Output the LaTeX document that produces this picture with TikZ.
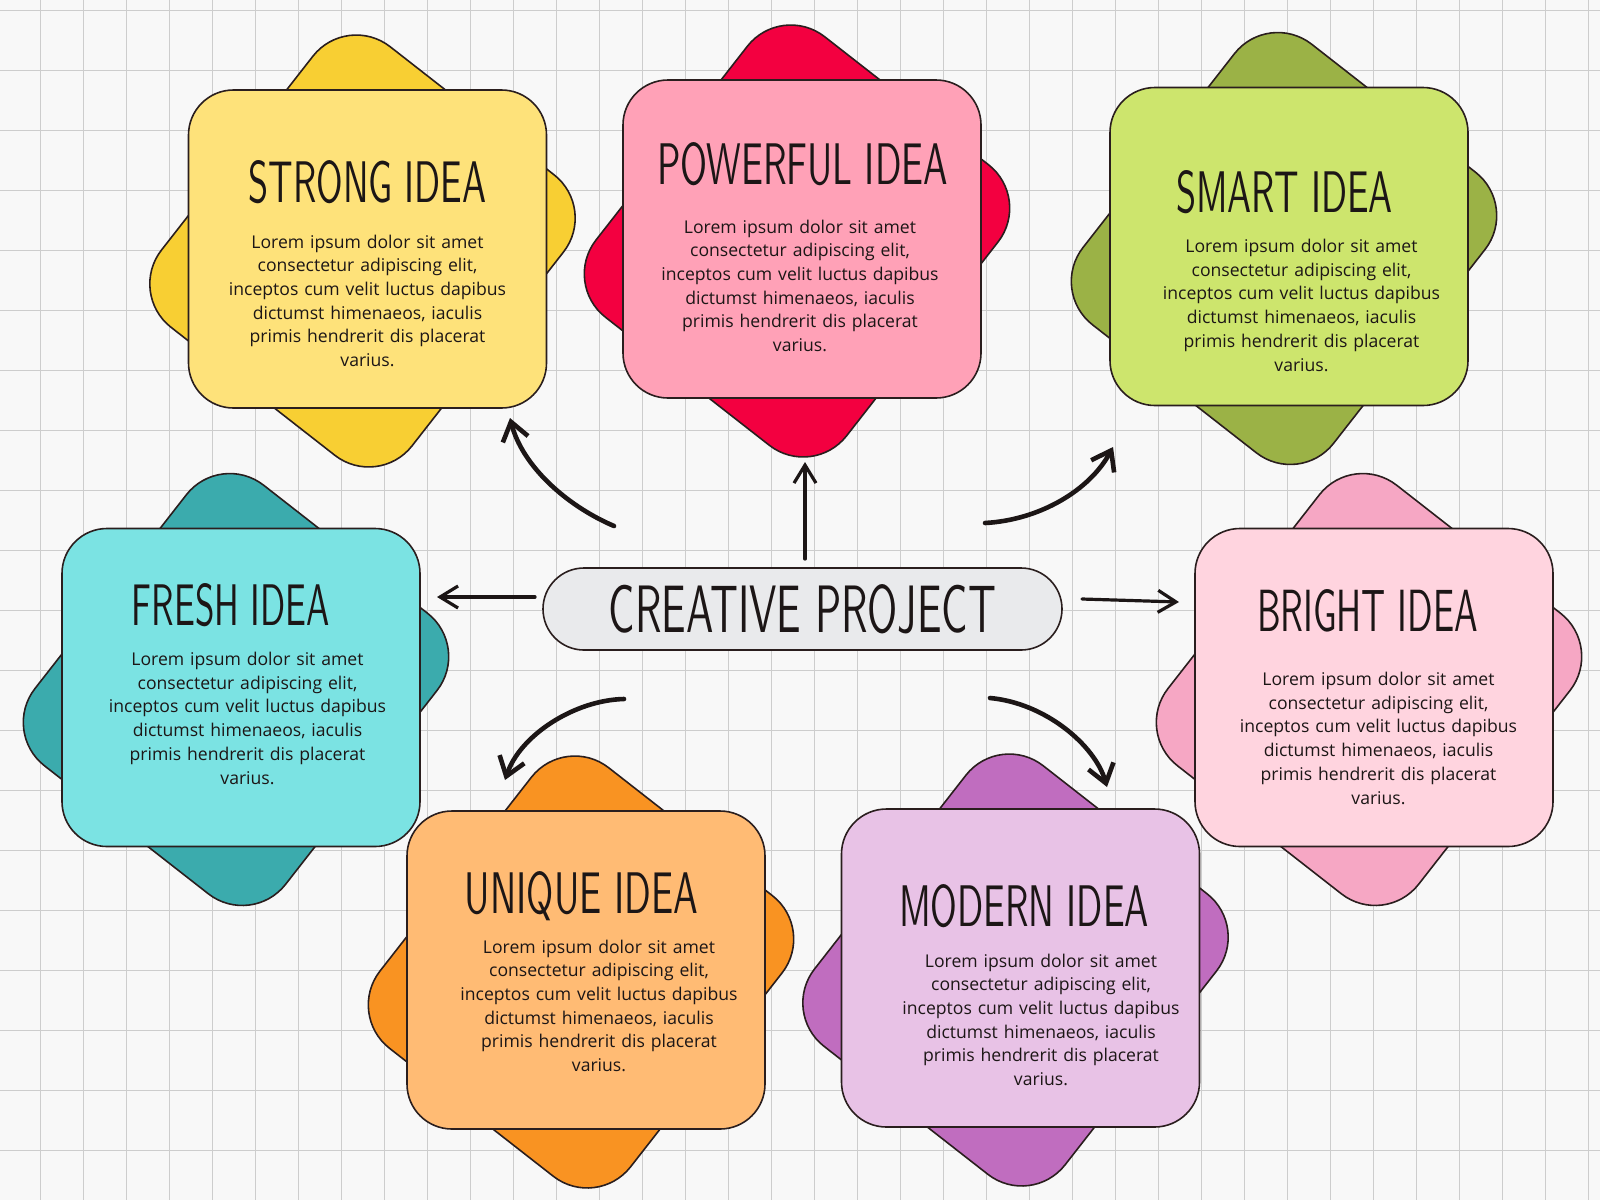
\documentclass[tikz,border=0pt]{standalone}
\usepackage{fontspec}
\setmainfont{Open Sans}
\usepackage{graphicx}
\usetikzlibrary{arrows.meta,calc}
\definecolor{bgC}{HTML}{F8F8F8}
\definecolor{gridC}{HTML}{CDCDCD}
\definecolor{lineC}{HTML}{2A1E1E}
\definecolor{inkC}{HTML}{1C1616}
\definecolor{yelF}{HTML}{FEE27A}\definecolor{yelB}{HTML}{F8CF33}
\definecolor{redF}{HTML}{FFA1B7}\definecolor{redB}{HTML}{F30040}
\definecolor{grnF}{HTML}{CDE56D}\definecolor{grnB}{HTML}{9BB246}
\definecolor{tealF}{HTML}{7BE3E3}\definecolor{tealB}{HTML}{3BABAD}
\definecolor{pinkF}{HTML}{FFD4DF}\definecolor{pinkB}{HTML}{F6A7C4}
\definecolor{orgF}{HTML}{FFBB74}\definecolor{orgB}{HTML}{F99322}
\definecolor{purF}{HTML}{E8C2E6}\definecolor{purB}{HTML}{C06DBF}
\definecolor{pillC}{HTML}{E9EAEC}
\newcommand{\loremtext}{Lorem ipsum dolor sit amet\\consectetur adipiscing elit,\\inceptos cum velit luctus dapibus\\dictumst himenaeos, iaculis\\primis hendrerit dis placerat\\varius.}
\newcommand{\ideaback}[3]{%
  \begin{scope}[shift={(#1-5,#2+2)}, rotate=52]
    \draw[cardline, fill=#3, rounded corners=27.5pt] (-178,-159) rectangle (178,159);
  \end{scope}}
\newcommand{\ideafront}[4]{%
  \node[frontbox, fill=#4] (#1) at (#2,#3) {};}
\newcommand{\ideatitle}[5]{%
  \node[titletext] (#1-title) at ($(#1.north)+(#4,#5)$) {\resizebox{#3pt}{21pt}{\sffamily #2}};}
\newcommand{\ideabody}[3]{%
  \node[bodytext] (#1-body) at ($(#1.north)+(#2,#3)$) {\loremtext};}
\begin{document}
\begin{tikzpicture}[x=0.5pt,y=-0.5pt,
  cardline/.style={draw=lineC, line width=0.8pt},
  frontbox/.style={cardline, rounded corners=22.5pt, minimum width=179pt, minimum height=159pt, inner sep=0pt, outer sep=0pt},
  titletext/.style={anchor=base, inner sep=0pt, text=inkC},
  bodytext/.style={anchor=base, inner sep=0pt, text=inkC, text width=180pt, align=center, font=\fontsize{8.8pt}{11.85pt}\selectfont},
  arr/.style={draw=inkC, line width=2.3pt, line cap=round, -{Straight Barb[length=9pt,width=13pt]}},
  sarr/.style={arr, line width=1.6pt, -{Straight Barb[length=9pt,width=11pt]}}]
\useasboundingbox (0,0) rectangle (1600,1200);
% paper background
\fill[bgC] (0,0) rectangle (1600,1200);
\foreach \x in {40,83,...,1600} \draw[gridC, line width=0.5pt] (\x,0) -- (\x,1200);
\foreach \y in {10,70,...,1200} \draw[gridC, line width=0.5pt] (0,\y) -- (1600,\y);
% back shapes
\ideaback{367.5}{249}{yelB}
\ideaback{802}{239}{redB}
\ideaback{1289}{246.5}{grnB}
\ideaback{241}{687.5}{tealB}
\ideaback{1374}{687.5}{pinkB}
\ideaback{586}{970}{orgB}
\ideaback{1020.5}{968}{purB}
% front boxes
\ideafront{strong}{367.5}{249}{yelF}
\ideafront{powerful}{802}{239}{redF}
\ideafront{smart}{1289}{246.5}{grnF}
\ideafront{fresh}{241}{687.5}{tealF}
\ideafront{bright}{1374}{687.5}{pinkF}
\ideafront{unique}{586}{970}{orgF}
\ideafront{modern}{1020.5}{968}{purF}
% titles
\ideatitle{strong}{STRONG IDEA}{119}{0}{112}
\ideatitle{powerful}{POWERFUL IDEA}{145.5}{0.5}{104}
\ideatitle{smart}{SMART IDEA}{108.5}{-4.5}{125}
\ideatitle{fresh}{FRESH IDEA}{99}{-10}{97}
\ideatitle{bright}{BRIGHT IDEA}{110.5}{-6.5}{103}
\ideatitle{unique}{UNIQUE IDEA}{116.5}{-4.5}{102}
\ideatitle{modern}{MODERN IDEA}{125}{3.5}{117}
% body texts
\ideabody{strong}{0}{158}
\ideabody{powerful}{-2}{153}
\ideabody{smart}{12.5}{165}
\ideabody{fresh}{6.5}{137}
\ideabody{bright}{4.5}{157}
\ideabody{unique}{13}{142}
\ideabody{modern}{20.5}{158}
% centre
\node[cardline, fill=pillC, rounded corners=20.5pt, minimum width=259.5pt, minimum height=41pt, inner sep=0pt, text=inkC] (cp) at (802.5,609) {\resizebox{193.5pt}{24pt}{\sffamily CREATIVE PROJECT}};
% arrows
\coordinate (a1s) at (805,559); \coordinate (a1e) at (805,462);
\coordinate (a2s) at (614,526); \coordinate (a2e) at (510,418);
\coordinate (a3s) at (985,523); \coordinate (a3e) at (1113,447);
\coordinate (a4s) at (535,597); \coordinate (a4e) at (437,597);
\coordinate (a5s) at (1082,599); \coordinate (a5e) at (1179,602);
\coordinate (a6s) at (624,699); \coordinate (a6e) at (505,780);
\coordinate (a7s) at (990,698); \coordinate (a7e) at (1107,787);
\draw[sarr] (a1s) -- (a1e);
\draw[arr] (a2s) .. controls (565,505) and (522,465) .. (a2e);
\draw[arr] (a3s) .. controls (1040,520) and (1090,490) .. (a3e);
\draw[sarr] (a4s) -- (a4e);
\draw[sarr] (a5s) -- (a5e);
\draw[arr] (a6s) .. controls (575,700) and (520,735) .. (a6e);
\draw[arr] (a7s) .. controls (1045,703) and (1095,745) .. (a7e);
\end{tikzpicture}
\end{document}
